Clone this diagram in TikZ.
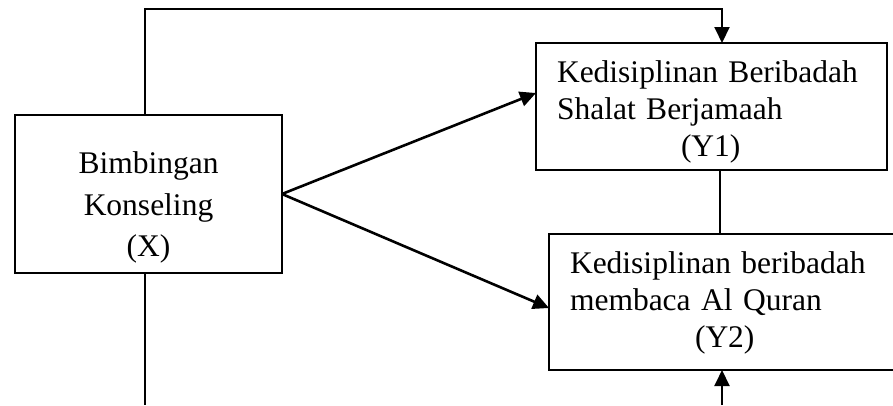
\documentclass[tikz,border=0pt]{standalone}
\usepackage{fontspec}
\setmainfont{Liberation Serif}
\usetikzlibrary{arrows.meta, positioning}

\begin{document}
\begin{tikzpicture}[x=1pt,y=-1pt,
    box/.style={draw, line width=1.5pt, outer sep=0pt, inner ysep=0pt, inner xsep=21pt, align=left,
                font=\fontsize{31.5}{37}\selectfont},
    link/.style={line width=2pt},
    arr/.style={line width=2.6pt, -{Triangle[length=16pt,width=15pt]}},
    uparr/.style={line width=2pt, -{Triangle[length=16pt,width=15pt]}}]

      \useasboundingbox (0,0) rectangle (893,405);
      \clip (0,0) rectangle (893,405);

      \node[box, anchor=north west, inner xsep=5pt, text width=257pt, minimum width=267pt, align=center,
            text height=58.3pt, text depth=99.7pt, font=\fontsize{31.5}{41.7}\selectfont]
            (x) at (15,115) {Bimbingan\\Konseling\\(X)};
      \node[box, anchor=north west, text width=309pt, minimum width=351pt, text height=39.3pt, text depth=87.7pt]
            (y1) at (536,43) {Kedisiplinan Beribadah\\Shalat Berjamaah\\\hspace*{124pt}(Y1)};
      % right side of this box is cut off
      \node[box, draw=none, anchor=north west, text width=360pt, minimum width=402pt, text height=39.3pt, text depth=96.7pt]
            (y2) at (549,234) {Kedisiplinan beribadah\\membaca Al Quran\\\hspace*{125pt}(Y2)};
      \draw[line width=1.5pt] (y2.north east) -- (y2.north west) -- (y2.south west) -- (y2.south east);

      % lines round the boxes
      \coordinate (top) at (722,9);
      \coordinate (mid) at (720,0);
      \coordinate (xbot) at (145,405);
      \coordinate (ybot) at (722,405);

      \draw[uparr] ([xshift=-3.5pt]x.north) |- (top) -- (top |- y1.north);
      \draw[link] (y1.south -| mid) -- (y2.north -| mid);
      \draw[link] (x.south -| xbot) -- (xbot);
      \draw[uparr] (ybot) -- (y2.south -| ybot);

      \path[arr] (x.east) edge ([yshift=13.5pt]y1.west)
                 (x.east) edge ([yshift=-6pt]y2.west);
\end{tikzpicture}
\end{document}
